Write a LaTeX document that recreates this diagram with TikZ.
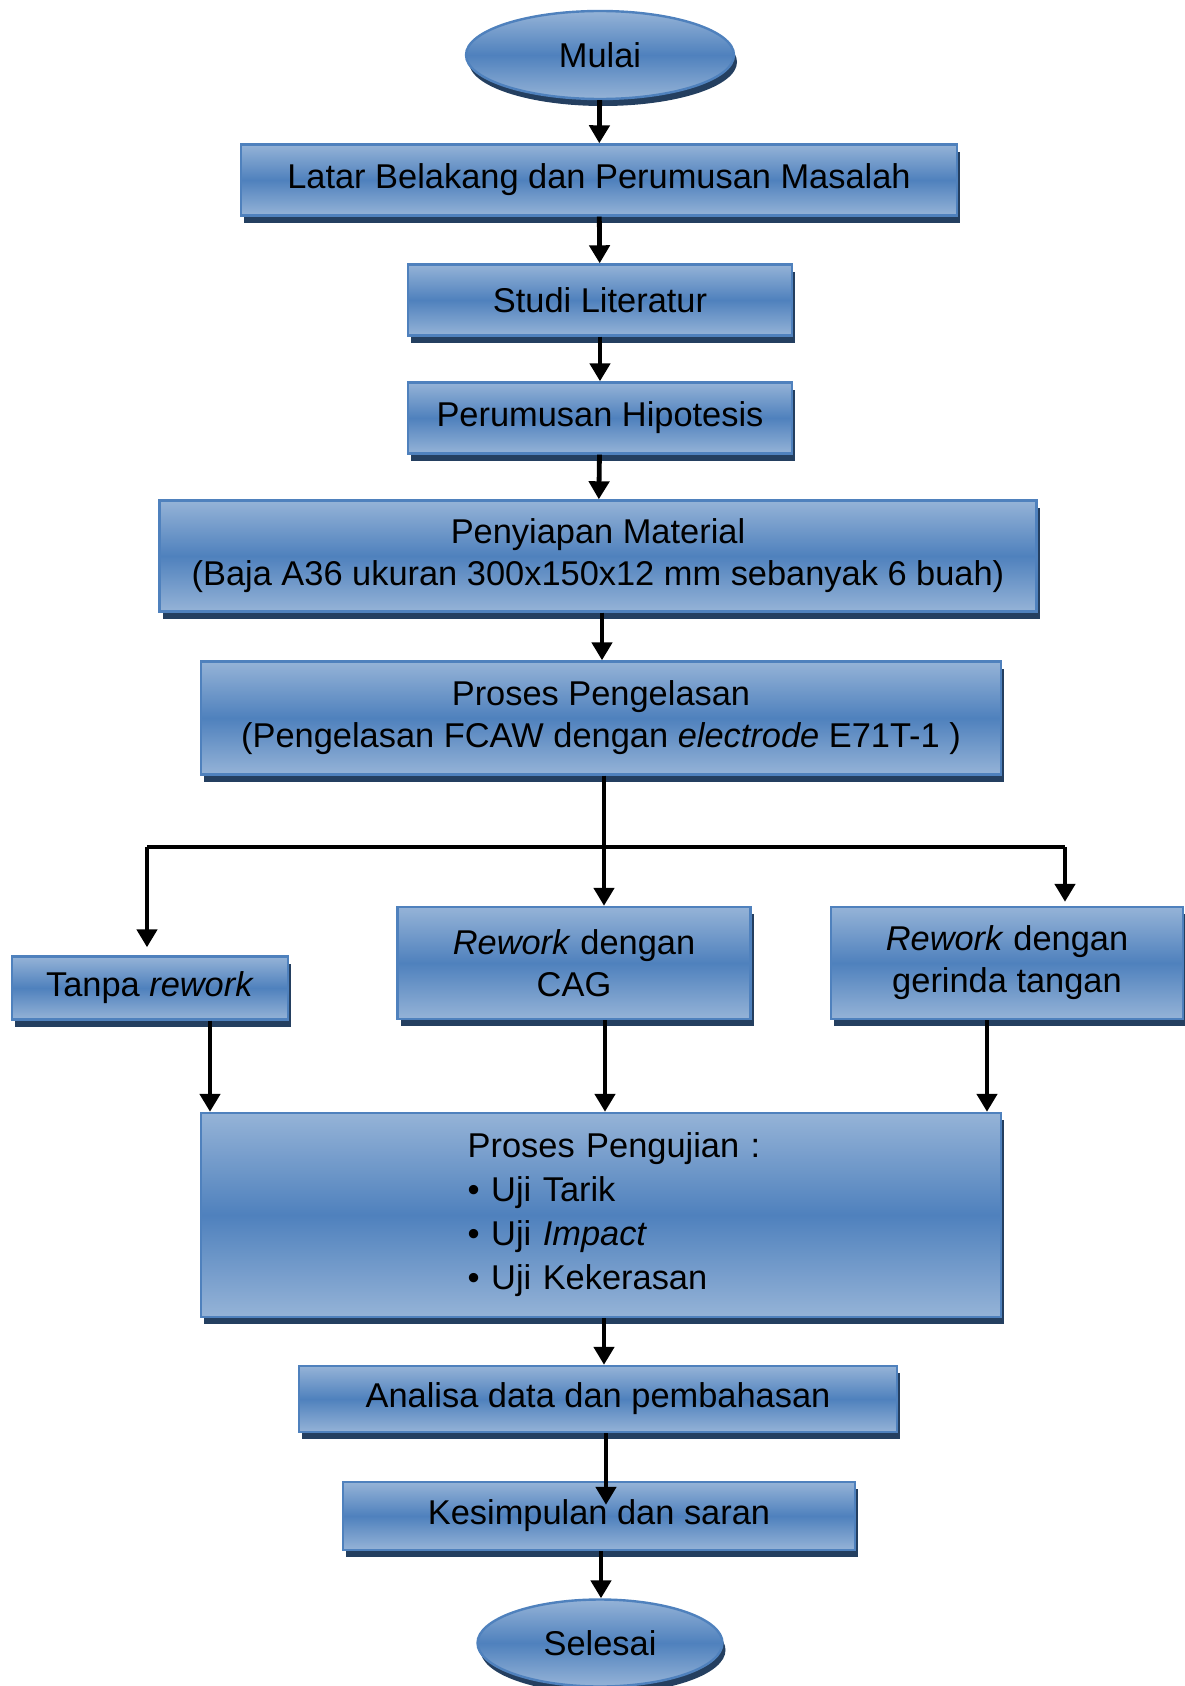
\documentclass[tikz,border=0pt]{standalone}
\usepackage{fontspec}
\setmainfont{Liberation Sans}
\usetikzlibrary{arrows.meta,positioning,calc,shapes.geometric,shadows}
\definecolor{birutepi}{RGB}{79,129,189}
\definecolor{birumuda}{RGB}{149,179,215}
\definecolor{bayangan}{RGB}{36,63,96}

\begin{document}
\begin{tikzpicture}[
  x=0.5pt,y=-0.5pt,
  font=\fontsize{17.2}{21}\selectfont,
  proses/.style={draw=birutepi,line width=1.2pt,align=center,inner sep=2pt,
    top color=birumuda,bottom color=birumuda,middle color=birutepi,
    drop shadow={shadow xshift=1.5pt,shadow yshift=-3.5pt,fill=bayangan,opacity=1}},
  terminal/.style={proses,ellipse,inner sep=0pt,
    drop shadow={shadow xshift=0.5pt,shadow yshift=-1.5pt,fill=bayangan,opacity=1}},
  arr/.style={-{Triangle[length=9pt,width=10pt]},line width=2.4pt},
  garis/.style={line width=2.4pt},
]
\useasboundingbox (0,0) rectangle (1184,1686);
\node[terminal,minimum width=134pt,minimum height=44pt] (mulai) at (600,55) {Mulai};
\node[proses,minimum width=358pt,minimum height=35.5pt] (latar) at (599,180)
  {Latar Belakang dan Perumusan Masalah};
\node[proses,minimum width=192pt,minimum height=35.5pt] (studi) at (600,300) {Studi Literatur};
\node[proses,minimum width=192pt,minimum height=35.5pt] (hipotesis) at (600,418) {Perumusan Hipotesis};
\node[proses,minimum width=438.5pt,minimum height=55.5pt] (material) at (598,556)
  {Penyiapan Material\\(Baja A36 ukuran 300x150x12 mm sebanyak 6 buah)};
\node[proses,minimum width=400pt,minimum height=56.5pt] (pengelasan) at (601,718)
  {Proses Pengelasan\\(Pengelasan FCAW dengan \textit{electrode} E71T-1 )};
\node[proses,minimum width=138pt,minimum height=31.5pt] (tanpa) at (150,988) {Tanpa \textit{rework}};
\node[proses,minimum width=176.5pt,minimum height=56pt] (cag) at (574,963) {\textit{Rework} dengan\\CAG};
\node[proses,minimum width=176pt,minimum height=56pt] (gerinda) at (1007,963)
  {\textit{Rework} dengan\\gerinda tangan};
\node[proses,minimum width=400pt,minimum height=102pt,text width=390pt] (pengujian) at (601,1215)
  {\hspace*{13pt}\begin{tabular}{@{}l@{}}Proses Pengujian :\\[1pt]
   \textbullet\ Uji Tarik\\[1pt] \textbullet\ Uji \textit{Impact}\\[1pt] \textbullet\ Uji Kekerasan\end{tabular}};
\node[proses,minimum width=299pt,minimum height=33pt] (analisa) at (598,1399) {Analisa data dan pembahasan};
\node[proses,minimum width=256pt,minimum height=34pt] (kesimpulan) at (599,1516) {Kesimpulan dan saran};
\node[terminal,minimum width=122.5pt,minimum height=43.5pt] (selesai) at (600,1643) {Selesai};
% jalur utama
\draw[arr] (mulai) -- (latar);
\draw[arr] (latar) -- (studi);
\draw[arr] (studi) -- (hipotesis);
\draw[arr] (hipotesis) -- (material);
\draw[arr] ([xshift=2pt]material.south) -- ([xshift=2pt]material.south |- pengelasan.north);
% percabangan
\coordinate (kiri) at (147,847);
\coordinate (kanan) at (1065,847);
\draw[garis] (kiri) -- (kanan);
\draw[arr] ([xshift=1.5pt]pengelasan.south) -- ([xshift=1.5pt]pengelasan.south |- cag.north);
\draw[arr] (kiri) -- ([yshift=4pt]kiri |- tanpa.north);
\draw[arr] (kanan) -- ([yshift=2pt]kanan |- gerinda.north);
\draw[arr] ([xshift=30pt]tanpa.south) -- ([xshift=30pt]tanpa.south |- pengujian.north);
\draw[arr] ([xshift=15.5pt]cag.south) -- ([xshift=15.5pt]cag.south |- pengujian.north);
\draw[arr] ([xshift=-10pt]gerinda.south) -- ([xshift=-10pt]gerinda.south |- pengujian.north);
\draw[arr] ([xshift=1.5pt]pengujian.south) -- ([xshift=1.5pt]pengujian.south |- analisa.north);
\draw[arr,shorten >=-12pt] ([xshift=4pt]analisa.south) -- ([xshift=4pt]analisa.south |- kesimpulan.north);
\draw[arr] ([xshift=1pt]kesimpulan.south) -- ([xshift=1pt]kesimpulan.south |- selesai.north);
\end{tikzpicture}
\end{document}
